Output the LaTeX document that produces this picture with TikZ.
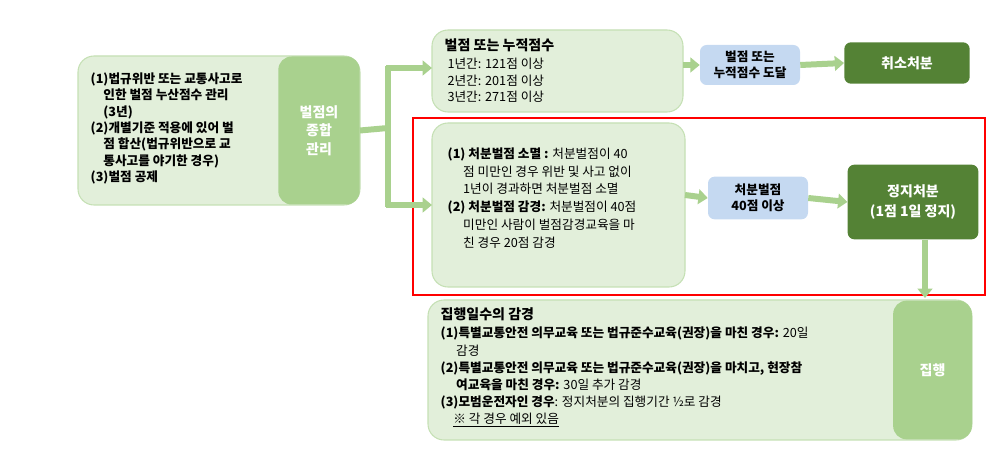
\documentclass[tikz,border=0pt]{standalone}
\usepackage{fontspec}
\setmainfont{Noto Sans CJK KR}
\usepackage{xcolor}
\definecolor{mylight}{RGB}{226,239,218}
\definecolor{myedge}{RGB}{197,224,180}
\definecolor{mymid}{RGB}{169,209,142}
\definecolor{mydark}{RGB}{84,130,53}
\definecolor{myblue}{RGB}{197,217,241}
\usetikzlibrary{arrows.meta,positioning,calc}
\begin{document}
\begin{tikzpicture}[
  x=0.75pt, y=-0.75pt,
  font=\fontsize{9.5}{12.5}\selectfont,
  bigbox/.style={draw=myedge, fill=mylight, rounded corners=12pt, line width=0.8pt},
  tabbox/.style={fill=mymid, rounded corners=10pt, text=white, font=\fontsize{10.5}{14}\selectfont\bfseries, align=center},
  bluebox/.style={fill=myblue, rounded corners=5pt, align=center, font=\fontsize{9.5}{12}\selectfont\bfseries},
  darkbox/.style={fill=mydark, rounded corners=5pt, text=white, align=center, font=\fontsize{10.5}{15}\selectfont\bfseries},
  flow/.style={draw=mymid, line width=4.5pt, -{Triangle[width=11pt,length=7pt]}},
  plain/.style={draw=mymid, line width=4.5pt}
]
\useasboundingbox (0,0) rectangle (997,459);

% left block
\draw[bigbox] (78,56) rectangle (360,205);
\node[tabbox, minimum width=61pt, minimum height=111pt] (total) at (319,130.5) {벌점의\\종합\\관리};
\node[anchor=north west, align=left, font=\fontsize{9.5}{12.3}\selectfont\bfseries] (ltext) at (86,68) {%
(1)법규위반 또는 교통사고로\\
\quad 인한 벌점 누산점수 관리\\
\quad (3년)\\
(2)개별기준 적용에 있어 벌\\
\quad 점 합산(법규위반으로 교\\
\quad 통사고를 야기한 경우)\\
(3)벌점 공제};

% top block
\draw[bigbox] (432,30) rectangle (683,112);
\coordinate (topin) at (432,68);
\node[anchor=north west, align=left] (toptext) at (440,34) {{\bfseries\fontsize{10.5}{14}\selectfont 벌점 또는 누적점수}\\[1pt]
\ 1년간: 121점 이상\\
\ 2년간: 201점 이상\\
\ 3년간: 271점 이상};
\node[bluebox, minimum width=75pt, minimum height=30pt] (reach) at (750,65) {벌점 또는\\누적점수 도달};
\node[darkbox, minimum width=94pt, minimum height=31pt] (cancel) at (907,63) {취소처분};

% middle block
\draw[red, line width=1pt] (413,118) rectangle (985,295);
\draw[bigbox] (432,123) rectangle (685,287);
\coordinate (midin) at (432,205);
\node[anchor=north west, align=left, font=\fontsize{9.5}{13.3}\selectfont] (midtext) at (443,143) {%
\textbf{(1) 처분벌점 소멸 :} 처분벌점이 40\\
\quad\ 점 미만인 경우 위반 및 사고 없이\\
\quad\ 1년이 경과하면 처분벌점 소멸\\
\textbf{(2) 처분벌점 감경:} 처분벌점이 40점\\
\quad\ 미만인 사람이 벌점감경교육을 마\\
\quad\ 친 경우 20점 감경};
\node[bluebox, minimum width=75pt, minimum height=32pt] (forty) at (758,198) {처분벌점\\40점 이상};
\node[darkbox, minimum width=98pt, minimum height=56pt] (stop) at (913,202) {정지처분\\(1점 1일 정지)};

% bottom block
\draw[bigbox] (428,300) rectangle (972,440);
\node[tabbox, minimum width=59pt, minimum height=104pt] (exec) at (932.5,370) {집행};
\coordinate (botin) at (925,298);
\node[anchor=north west, align=left, font=\fontsize{9.5}{12.8}\selectfont] (bottext) at (436,303) {%
{\bfseries\fontsize{10.5}{14}\selectfont 집행일수의 감경}\\[1pt]
\textbf{(1)특별교통안전 의무교육 또는 법규준수교육(권장)을 마친 경우:} 20일\\
\quad\ 감경\\
\textbf{(2)특별교통안전 의무교육 또는 법규준수교육(권장)을 마치고, 현장참}\\
\quad\ \textbf{여교육을 마친 경우:} 30일 추가 감경\\
\textbf{(3)모범운전자인 경우}: 정지처분의 집행기간 ½로 감경\\
\quad\underline{※ 각 경우 예외 있음}};

% connectors
\coordinate (fork) at (388,128);
\draw[plain] (total.east) -- (fork);
\draw[plain] (388,66) -- (388,207);
\draw[flow] (386,68) -- (topin);
\draw[flow] (386,205) -- (midin);
\draw[flow] (683,65) -- (reach.west);
\draw[flow] (reach.east) -- (cancel.west);
\draw[flow] (685,195) -- (forty.west);
\draw[flow] (forty.east) -- (stop.west);
\draw[flow] (stop.south -| botin) -- (botin);
\end{tikzpicture}
\end{document}
